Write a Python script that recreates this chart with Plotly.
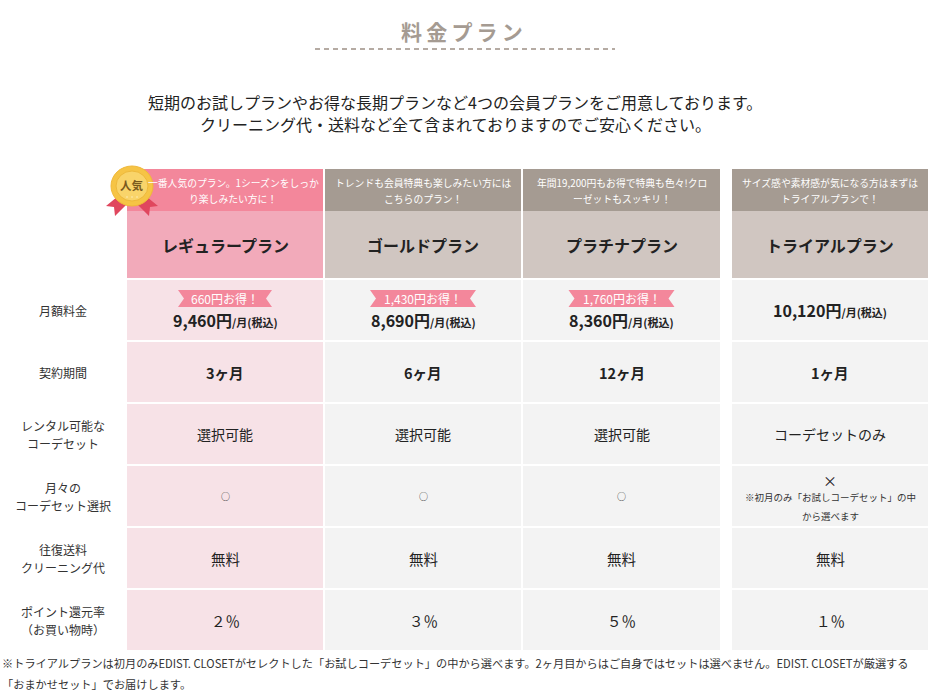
import plotly.graph_objects as go

# --- table content ---
plans = ["レギュラープラン", "ゴールドプラン", "プラチナプラン", "トライアルプラン"]
taglines = [
    "一番人気のプラン。1シーズンをしっか<br>り楽しみたい方に！",
    "トレンドも会員特典も楽しみたい方には<br>こちらのプラン！",
    "年間19,200円もお得で特典も色々!クロ<br>ーゼットもスッキリ！",
    "サイズ感や素材感が気になる方はまずは<br>トライアルプランで！",
]
prices = ["9,460", "8,690", "8,360", "10,120"]
savings = ["660", "1,430", "1,760", None]
terms = ["3ヶ月", "6ヶ月", "12ヶ月", "1ヶ月"]
rental = ["選択可能", "選択可能", "選択可能", "コーデセットのみ"]
monthly_select = ["○", "○", "○", "×"]
trial_note = "※初月のみ「お試しコーデセット」の中<br>から選べます"
shipping = ["無料", "無料", "無料", "無料"]
points = ["２％", "３％", "５％", "１％"]
row_labels = ["月額料金", "契約期間", "レンタル可能な<br>コーデセット",
              "月々の<br>コーデセット選択", "往復送料<br>クリーニング代",
              "ポイント還元率<br>（お買い物時）"]

title = "料金プラン"
intro = ["短期のお試しプランやお得な長期プランなど4つの会員プランをご用意しております。",
         "クリーニング代・送料など全て含まれておりますのでご安心ください。"]
footnote = ["※トライアルプランは初月のみEDIST. CLOSETがセレクトした「お試しコーデセット」の中から選べます。2ヶ月目からはご自身ではセットは選べません。EDIST. CLOSETが厳選する",
            "「おまかせセット」でお届けします。"]

# --- layout geometry ---
W, H = 928, 695
col_left = [127, 325, 523, 732]
col_w = [196, 196, 197, 196]
head_top, tag_bottom, head_bottom = 169, 211, 278
row_top0, row_h, row_step = 280, 60, 62

PINK_TOP, PINK_NAME, PINK_CELL = "#F3879B", "#F2AABA", "#F7E2E7"
GRAY_TOP, GRAY_NAME, GRAY_CELL = "#A59B92", "#D0C6C1", "#F3F3F3"
FONT = "Noto Sans CJK JP"
TXT = "#222222"

fig = go.Figure()
shapes = []
ann = []


def rect(x0, y0, x1, y1, color):
    shapes.append(dict(type="rect", xref="x", yref="y", x0=x0, y0=y0, x1=x1, y1=y1,
                       fillcolor=color, line=dict(width=0), layer="below"))


def text(x, y, s, size=12, color=TXT, bold=False, xanchor="center", lh=None):
    # multi-line text gets one annotation per line so the line gap can be set
    lines = s.split("<br>")
    lh = lh or size * 1.4
    y_first = y - lh * (len(lines) - 1) / 2
    for k, line in enumerate(lines):
        if bold:
            line = "<b>" + line + "</b>"
        ann.append(dict(x=x, y=y_first + k * lh, xref="x", yref="y", text=line, showarrow=False,
                        xanchor=xanchor, yanchor="middle",
                        font=dict(family=FONT, size=size, color=color)))


# title + dashed rule
text(462, 31, "\u2009".join(title), size=21, color="#A59B92", bold=True)
shapes.append(dict(type="line", xref="x", yref="y", x0=315, x1=615, y0=49, y1=49,
                   line=dict(color="#B5ABA3", width=2, dash="5px,4px")))
text(455, 113, "<br>".join(intro), size=16, lh=22)

# header + body cells
for i, plan in enumerate(plans):
    x0, x1 = col_left[i], col_left[i] + col_w[i]
    cx = (x0 + x1) / 2
    top, name, cell = (PINK_TOP, PINK_NAME, PINK_CELL) if i == 0 else (GRAY_TOP, GRAY_NAME, GRAY_CELL)
    rect(x0, head_top, x1, tag_bottom, top)
    rect(x0, tag_bottom, x1, head_bottom, name)
    text(cx + (8 if i == 0 else 0), 190.5, taglines[i], size=9.8, color="white", lh=16)
    text(cx, 245, plan, size=16, bold=True)
    for r in range(len(row_labels)):
        y0 = row_top0 + r * row_step
        rect(x0, y0, x1, y0 + row_h, cell)

    # monthly price
    if savings[i]:
        bw = 94 if len(savings[i]) < 4 else 106
        by, bh = 298.5, 17
        shapes.append(dict(
            type="path", xref="x", yref="y", fillcolor=PINK_TOP, line=dict(width=0),
            path=(f"M{cx - bw / 2},{by - bh / 2} L{cx + bw / 2},{by - bh / 2} "
                  f"L{cx + bw / 2 - 6},{by} L{cx + bw / 2},{by + bh / 2} "
                  f"L{cx - bw / 2},{by + bh / 2} L{cx - bw / 2 + 6},{by} Z")))
        text(cx, by, f"{savings[i]}円お得！", size=12, color="white")
        py = 320
    else:
        py = 310
    text(cx, py, f"<b>{prices[i]}円</b><span style='font-size:11px'><b>/月(税込)</b></span>", size=16)

    yc = [row_top0 + r * row_step + row_h / 2 for r in range(len(row_labels))]
    text(cx, yc[1], terms[i], size=14.5, bold=True)
    text(cx, yc[2], rental[i], size=14)
    if monthly_select[i] == "×":
        text(cx, yc[3] - 16, monthly_select[i], size=14)
        text(cx, yc[3] + 10, trial_note, size=9.5, color="#333333", lh=19)
    else:
        text(cx, yc[3], monthly_select[i], size=9, color="#333333")
    text(cx, yc[4], shipping[i], size=14.5)
    text(cx, yc[5], points[i], size=14.5)

# row labels
for r, lab in enumerate(row_labels):
    text(63, row_top0 + r * row_step + row_h / 2, lab, size=12, color="#333333", lh=18)

# footnote
text(0, 673.5, "<br>".join(footnote), size=11.2, color="#333333", xanchor="left", lh=21)

# popularity medal
mx, my = 132, 186
shapes.append(dict(type="path", xref="x", yref="y", fillcolor="#E0475E", line=dict(width=0),
                   path="M117,197 L106,206 L114,207 L115,216 L128,203 Z"))
shapes.append(dict(type="path", xref="x", yref="y", fillcolor="#E0475E", line=dict(width=0),
                   path="M147,197 L158,206 L150,207 L149,216 L136,203 Z"))
shapes.append(dict(type="circle", xref="x", yref="y", x0=mx - 21, x1=mx + 21, y0=my - 20, y1=my + 20,
                   fillcolor="#F6C445", line=dict(color="#F0B838", width=1)))
shapes.append(dict(type="circle", xref="x", yref="y", x0=mx - 16, x1=mx + 16, y0=my - 15, y1=my + 15,
                   fillcolor="#F9D46A", line=dict(color="#EDB83A", width=1)))
text(mx, my - 1, "人気", size=11.5, color="#7A5A1E", bold=True)
for dx in (-5, 0, 5):
    shapes.append(dict(type="circle", xref="x", yref="y", x0=mx + dx - 1, x1=mx + dx + 1,
                       y0=my + 10, y1=my + 12, fillcolor="#FBE39A", line=dict(width=0)))

fig.update_layout(
    width=W, height=H, margin=dict(l=0, r=0, t=0, b=0),
    paper_bgcolor="white", plot_bgcolor="white",
    xaxis=dict(range=[0, W], visible=False, fixedrange=True),
    yaxis=dict(range=[H, 0], visible=False, fixedrange=True),
    shapes=shapes, annotations=ann, showlegend=False,
)

# drop the default page margin so the figure sits at the window's corner
fig.write_html("out.html", config={"displayModeBar": False},
               post_script="document.body.style.margin='0';document.body.style.overflow='hidden';")
